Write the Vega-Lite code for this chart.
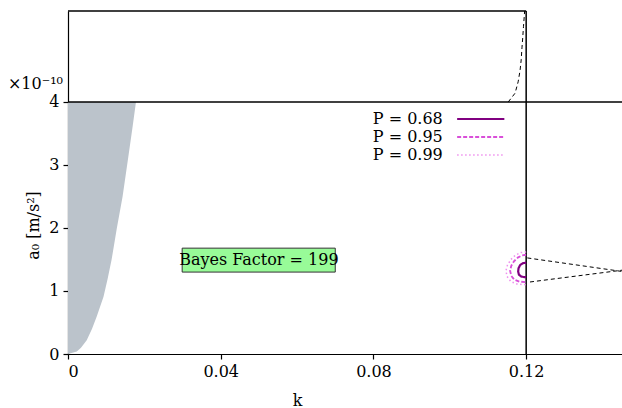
{
  "$schema": "https://vega.github.io/schema/vega-lite/v6.json",
  "width": 554,
  "height": 343,
  "autosize": {"type": "none"},
  "padding": {"left": 68, "top": 11, "right": 0, "bottom": 54},
  "config": {
    "view": {"stroke": null},
    "font": "DejaVu Serif",
    "axis": {
      "grid": false,
      "domainColor": "black",
      "domainWidth": 1.2,
      "tickColor": "black",
      "tickWidth": 1.2,
      "tickSize": 5,
      "labelColor": "black",
      "labelFont": "DejaVu Serif",
      "labelFontSize": 16,
      "labelPadding": 4,
      "titleFont": "DejaVu Serif",
      "titleFontSize": 16,
      "titleFontWeight": "normal",
      "titleColor": "black"
    }
  },
  "datasets": {
    "excluded": [
      {"a0": 0.0, "k": 0.0},
      {"a0": 0.04, "k": 0.0023},
      {"a0": 0.1, "k": 0.0034},
      {"a0": 0.22, "k": 0.0049},
      {"a0": 0.4, "k": 0.0063},
      {"a0": 0.59, "k": 0.0075},
      {"a0": 0.91, "k": 0.0093},
      {"a0": 1.2, "k": 0.0104},
      {"a0": 1.49, "k": 0.0114},
      {"a0": 2.0, "k": 0.0128},
      {"a0": 2.5, "k": 0.0143},
      {"a0": 3.13, "k": 0.0158},
      {"a0": 3.6, "k": 0.0169},
      {"a0": 4.0, "k": 0.0178}
    ],
    "bounds": [
      {"side": "upper", "i": 0, "k": 0.1203, "a0": 1.525},
      {"side": "upper", "i": 1, "k": 0.1451, "a0": 1.31},
      {"side": "lower", "i": 0, "k": 0.1210, "a0": 1.143},
      {"side": "lower", "i": 1, "k": 0.1451, "a0": 1.33},
      {"side": "top", "i": 0, "k": 0.1153, "a0": 4.0},
      {"side": "top", "i": 1, "k": 0.1162, "a0": 4.07},
      {"side": "top", "i": 2, "k": 0.1171, "a0": 4.14},
      {"side": "top", "i": 3, "k": 0.1179, "a0": 4.32},
      {"side": "top", "i": 4, "k": 0.1184, "a0": 4.5},
      {"side": "top", "i": 5, "k": 0.1187, "a0": 4.67},
      {"side": "top", "i": 6, "k": 0.1189, "a0": 4.86},
      {"side": "top", "i": 7, "k": 0.1191, "a0": 5.02},
      {"side": "top", "i": 8, "k": 0.1193, "a0": 5.2},
      {"side": "top", "i": 9, "k": 0.1195, "a0": 5.36},
      {"side": "top", "i": 10, "k": 0.1196, "a0": 5.444}
    ],
    "contours": [
      {"P": "P = 0.68", "i": 0, "k": 0.1200, "a0": 1.45},
      {"P": "P = 0.68", "i": 1, "k": 0.1191, "a0": 1.44},
      {"P": "P = 0.68", "i": 2, "k": 0.1184, "a0": 1.41},
      {"P": "P = 0.68", "i": 3, "k": 0.1180, "a0": 1.36},
      {"P": "P = 0.68", "i": 4, "k": 0.1179, "a0": 1.31},
      {"P": "P = 0.68", "i": 5, "k": 0.1181, "a0": 1.26},
      {"P": "P = 0.68", "i": 6, "k": 0.1187, "a0": 1.23},
      {"P": "P = 0.68", "i": 7, "k": 0.1195, "a0": 1.22},
      {"P": "P = 0.68", "i": 8, "k": 0.1200, "a0": 1.22},
      {"P": "P = 0.95", "i": 0, "k": 0.1200, "a0": 1.575},
      {"P": "P = 0.95", "i": 1, "k": 0.1189, "a0": 1.565},
      {"P": "P = 0.95", "i": 2, "k": 0.1178, "a0": 1.53},
      {"P": "P = 0.95", "i": 3, "k": 0.1168, "a0": 1.47},
      {"P": "P = 0.95", "i": 4, "k": 0.1161, "a0": 1.40},
      {"P": "P = 0.95", "i": 5, "k": 0.1158, "a0": 1.32},
      {"P": "P = 0.95", "i": 6, "k": 0.1161, "a0": 1.24},
      {"P": "P = 0.95", "i": 7, "k": 0.1169, "a0": 1.18},
      {"P": "P = 0.95", "i": 8, "k": 0.1182, "a0": 1.15},
      {"P": "P = 0.95", "i": 9, "k": 0.1200, "a0": 1.14},
      {"P": "P = 0.99", "i": 0, "k": 0.1200, "a0": 1.62},
      {"P": "P = 0.99", "i": 1, "k": 0.1186, "a0": 1.61},
      {"P": "P = 0.99", "i": 2, "k": 0.1172, "a0": 1.57},
      {"P": "P = 0.99", "i": 3, "k": 0.1160, "a0": 1.50},
      {"P": "P = 0.99", "i": 4, "k": 0.1151, "a0": 1.41},
      {"P": "P = 0.99", "i": 5, "k": 0.1147, "a0": 1.32},
      {"P": "P = 0.99", "i": 6, "k": 0.1150, "a0": 1.23},
      {"P": "P = 0.99", "i": 7, "k": 0.1160, "a0": 1.15},
      {"P": "P = 0.99", "i": 8, "k": 0.1176, "a0": 1.11},
      {"P": "P = 0.99", "i": 9, "k": 0.1200, "a0": 1.10}
    ],
    "notes": [
      {"text": "Bayes Factor = 199", "k": 0.05, "a0": 1.49}
    ],
    "single": [{}]
  },
  "layer": [
    {
      "data": {"name": "excluded"},
      "mark": {"type": "area", "orient": "horizontal", "color": "#bbc3cb", "opacity": 1},
      "encoding": {
        "y": {
          "field": "a0",
          "type": "quantitative",
          "scale": {"domain": [0, 5.444], "nice": false},
          "axis": {"values": [0, 1, 2, 3, 4], "format": "d", "title": "a₀ [m/s²]", "titleX": -35, "titleY": 214, "titleAlign": "center", "titleBaseline": "middle", "titleAngle": 270}
        },
        "x": {
          "field": "k",
          "type": "quantitative",
          "scale": {"domain": [0, 0.1451], "nice": false},
          "axis": {"values": [0, 0.04, 0.08, 0.12], "labelExpr": "datum.value == 0 ? '0' : format(datum.value, '.2f')", "title": "k", "titleX": 229, "titleY": 51, "titleBaseline": "alphabetic", "titleAlign": "center"}
        },
        "x2": {"datum": 0}
      }
    },
    {
      "data": {"name": "single"},
      "mark": {"type": "rule", "color": "black", "strokeWidth": 1.5},
      "encoding": {"x": {"datum": 0}, "x2": {"datum": 0.12}, "y": {"datum": 5.444}}
    },
    {
      "data": {"name": "single"},
      "mark": {"type": "rule", "color": "black", "strokeWidth": 1.5},
      "encoding": {"x": {"datum": 0.12}, "y": {"datum": 0}, "y2": {"datum": 5.444}}
    },
    {
      "data": {"name": "single"},
      "mark": {"type": "rule", "color": "black", "strokeWidth": 1.5},
      "encoding": {"y": {"datum": 4}, "x": {"datum": 0}, "x2": {"datum": 0.1451}}
    },
    {
      "data": {"name": "bounds"},
      "mark": {"type": "line", "color": "black", "strokeWidth": 1, "strokeDash": [4, 3], "clip": true},
      "encoding": {
        "x": {"field": "k", "type": "quantitative", "title": "k"},
        "y": {"field": "a0", "type": "quantitative", "title": "a₀ [m/s²]"},
        "detail": {"field": "side"},
        "order": {"field": "i", "type": "quantitative"}
      }
    },
    {
      "data": {"name": "contours"},
      "mark": {"type": "line", "clip": true},
      "encoding": {
        "x": {"field": "k", "type": "quantitative", "title": "k"},
        "y": {"field": "a0", "type": "quantitative", "title": "a₀ [m/s²]"},
        "order": {"field": "i", "type": "quantitative"},
        "color": {
          "field": "P",
          "type": "nominal",
          "scale": {"domain": ["P = 0.68", "P = 0.95", "P = 0.99"], "range": ["#800080", "#d94fd9", "#ee90ee"]},
          "legend": {
            "title": null,
            "orient": "none",
            "legendX": 378,
            "legendY": 100,
            "padding": 0,
            "symbolType": "M-3.5,0H3.5",
            "symbolSize": 182,
            "symbolStrokeWidth": 2,
            "symbolOffset": 26.75,
            "labelOffset": -46,
            "labelAlign": "right",
            "labelFont": "DejaVu Serif",
            "labelFontSize": 16,
            "labelColor": "black",
            "rowPadding": 2
          }
        },
        "strokeDash": {
          "field": "P",
          "type": "nominal",
          "scale": {"domain": ["P = 0.68", "P = 0.95", "P = 0.99"], "range": [[1, 0], [4, 2], [1.5, 2.5]]}
        },
        "strokeWidth": {
          "field": "P",
          "type": "nominal",
          "scale": {"domain": ["P = 0.68", "P = 0.95", "P = 0.99"], "range": [2.2, 1.5, 1.5]},
          "legend": null
        }
      }
    },
    {
      "data": {"name": "single"},
      "mark": {"type": "rect", "fill": "#98fb98", "stroke": "#333333", "strokeWidth": 1},
      "encoding": {"x": {"datum": 0.0299}, "x2": {"datum": 0.0700}, "y": {"datum": 1.30}, "y2": {"datum": 1.68}}
    },
    {
      "data": {"name": "notes"},
      "mark": {"type": "text", "font": "DejaVu Serif", "fontSize": 16, "color": "black", "align": "center", "baseline": "middle"},
      "encoding": {
        "x": {"field": "k", "type": "quantitative", "title": "k"},
        "y": {"field": "a0", "type": "quantitative", "title": "a₀ [m/s²]"},
        "text": {"field": "text"}
      }
    },
    {
      "data": {"name": "single"},
      "mark": {"type": "text", "font": "DejaVu Serif", "fontSize": 16, "color": "black", "align": "right", "baseline": "alphabetic", "dx": -5, "dy": -13, "clip": false},
      "encoding": {"x": {"datum": 0}, "y": {"datum": 4}, "text": {"value": "×10⁻¹⁰"}}
    }
  ]
}
